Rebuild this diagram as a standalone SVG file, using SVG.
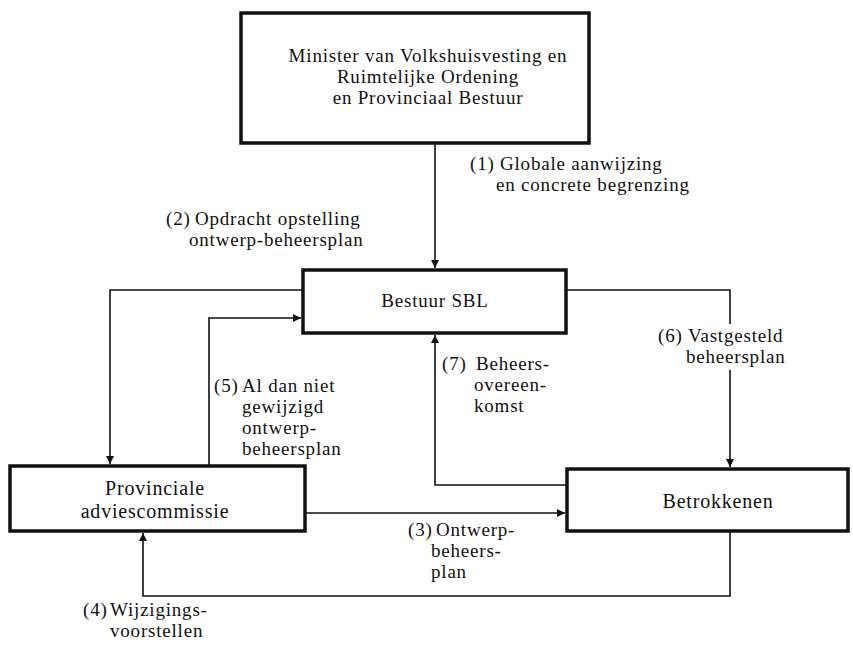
<svg xmlns="http://www.w3.org/2000/svg" width="853" height="647" viewBox="0 0 853 647">
<style>
.box{fill:#fff;stroke:#111;stroke-width:3.5}
.c{fill:none;stroke:#111;stroke-width:1.6}
text{font-family:"Liberation Serif","Times New Roman",serif;font-size:19px;letter-spacing:0.8px;fill:#111}
.m{text-anchor:middle}
.n{font-size:20px}
</style>
<defs>
<marker id="ah" viewBox="0 0 10 10" refX="10" refY="5" markerWidth="11" markerHeight="8" markerUnits="userSpaceOnUse" orient="auto">
<path d="M0,0 L10,5 L0,10 z" fill="#111"/>
</marker>
</defs>
<rect width="853" height="647" fill="#fff"/>
<g id="connectors">
<path class="c" d="M435,144 V268" marker-end="url(#ah)"/>
<path class="c" d="M303,290 H110 V464" marker-end="url(#ah)"/>
<path class="c" d="M209,466 V318 H301" marker-end="url(#ah)"/>
<path class="c" d="M566,290 H730 V324"/>
<path class="c" d="M730,370 V467" marker-end="url(#ah)"/>
<path class="c" d="M567,485 H435 V335" marker-end="url(#ah)"/>
<path class="c" d="M305,513 H565" marker-end="url(#ah)"/>
<path class="c" d="M730,532 V596 H143 V533" marker-end="url(#ah)"/>
</g>
<g id="labels">
<text><tspan x="470" y="170">(1)</tspan><tspan x="500" y="170">Globale aanwijzing</tspan><tspan x="496" y="191">en concrete begrenzing</tspan></text>
<text><tspan x="166" y="225">(2)</tspan><tspan x="195" y="225">Opdracht opstelling</tspan><tspan x="189" y="246">ontwerp-beheersplan</tspan></text>
<text><tspan x="214" y="392">(5)</tspan><tspan x="242" y="392">Al dan niet</tspan><tspan x="242" y="413">gewijzigd</tspan><tspan x="242" y="434">ontwerp-</tspan><tspan x="242" y="455">beheersplan</tspan></text>
<text><tspan x="658" y="342">(6)</tspan><tspan x="688" y="342">Vastgesteld</tspan><tspan x="686" y="363">beheersplan</tspan></text>
<text><tspan x="442" y="370">(7)</tspan><tspan x="476" y="370">Beheers-</tspan><tspan x="474" y="391">overeen-</tspan><tspan x="474" y="412">komst</tspan></text>
<text><tspan x="408" y="536">(3)</tspan><tspan x="436" y="536">Ontwerp-</tspan><tspan x="431" y="557">beheers-</tspan><tspan x="431" y="578">plan</tspan></text>
<text><tspan x="83" y="616">(4)</tspan><tspan x="110" y="616">Wijzigings-</tspan><tspan x="110" y="637">voorstellen</tspan></text>
</g>
<g id="minister">
<rect class="box" x="241" y="13" width="348" height="130"/>
<text class="m"><tspan x="428" y="62">Minister van Volkshuisvesting en</tspan><tspan x="428" y="83">Ruimtelijke Ordening</tspan><tspan x="428" y="104">en  Provinciaal Bestuur</tspan></text>
</g>
<g id="bestuur">
<rect class="box" x="303" y="270" width="263" height="63"/>
<text class="m" x="435" y="307">Bestuur SBL</text>
</g>
<g id="provinciale">
<rect class="box" x="10" y="466" width="295" height="65"/>
<text class="m n"><tspan x="155" y="495">Provinciale</tspan><tspan x="155" y="518">adviescommissie</tspan></text>
</g>
<g id="betrokkenen">
<rect class="box" x="567" y="469" width="281" height="62"/>
<text class="m n" x="718" y="508">Betrokkenen</text>
</g>
</svg>
